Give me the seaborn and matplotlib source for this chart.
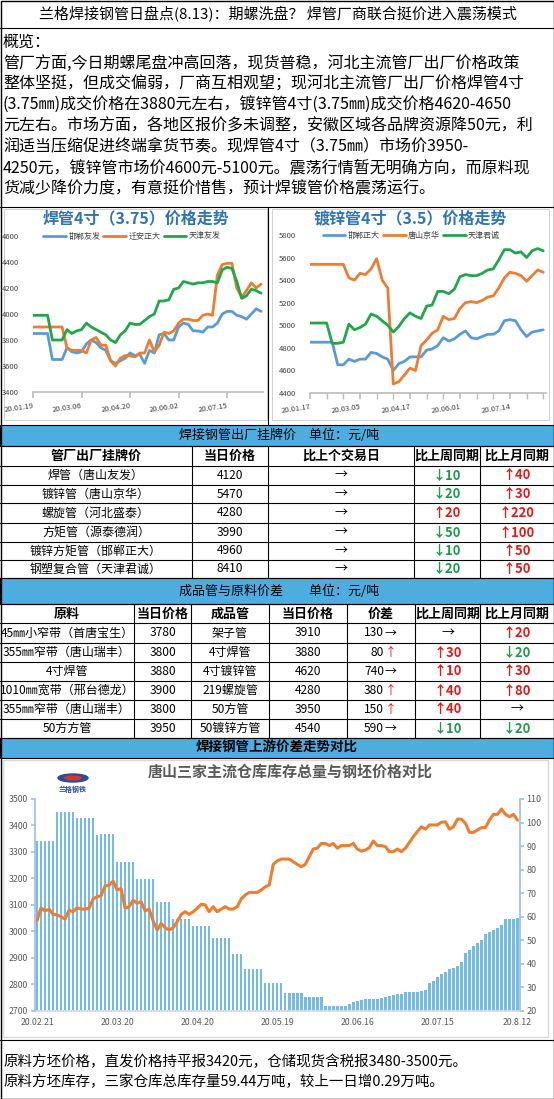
import numpy as np
import pandas as pd
import seaborn as sns
import matplotlib.pyplot as plt
from matplotlib.patches import Rectangle, Ellipse
from matplotlib.transforms import Bbox, TransformedBbox

W, H = 554, 1099
sns.set_theme(style="white")
plt.rcParams['font.family'] = ['Noto Sans CJK SC', 'DejaVu Sans']
plt.rcParams['axes.unicode_minus'] = False

# ---------------- data ----------------
title = "兰格焊接钢管日盘点(8.13)：期螺洗盘？ 焊管厂商联合挺价进入震荡模式"
overview = [
    "概览：",
    "管厂方面,今日期螺尾盘冲高回落，现货普稳，河北主流管厂出厂价格政策",
    "整体坚挺，但成交偏弱，厂商互相观望；现河北主流管厂出厂价格焊管4寸",
    "(3.75㎜)成交价格在3880元左右，镀锌管4寸(3.75㎜)成交价格4620-4650",
    "元左右。市场方面，各地区报价多未调整，安徽区域各品牌资源降50元，利",
    "润适当压缩促进终端拿货节奏。现焊管4寸（3.75㎜）市场价3950-",
    "4250元，镀锌管市场价4600元-5100元。震荡行情暂无明确方向，而原料现",
    "货减少降价力度，有意挺价惜售，预计焊镀管价格震荡运行。",
]
footer = [
    "原料方坯价格，直发价格持平报3420元，仓储现货含税报3480-3500元。",
    "原料方坯库存，三家仓库总库存量59.44万吨，较上一日增0.29万吨。",
]

# 焊管4寸(3.75) chart
weld_dates = ["20.01.19", "20.03.06", "20.04.20", "20.06.02", "20.07.15"]
weld_names = ["邯郸友发", "迁安正大", "天津友发"]
hd_youfa = [3850, 3850, 3850, 3850, 3650, 3650, 3650, 3740, 3710, 3700,
            3710, 3770, 3800, 3780, 3740, 3720, 3640, 3620, 3640, 3660,
            3700, 3680, 3690, 3620, 3720, 3700, 3840, 3850, 3800, 3800,
            3900, 3930, 3920, 3870, 3870, 3860, 3900, 3900, 3930, 4000,
            4020, 4020, 3990, 3980, 3960, 4000, 4040, 4020]
qa_zhengda = [3900, 3900, 3900, 3900, 3900, 3900, 3900, 3740, 3720, 3720,
              3720, 3700, 3800, 3820, 3760, 3760, 3640, 3600, 3660, 3680,
              3680, 3670, 3700, 3700, 3800, 3710, 3760, 3860, 3850, 3870,
              3930, 3960, 3960, 3950, 3950, 3990, 4000, 3990, 4300, 4380,
              4390, 4390, 4200, 4130, 4180, 4240, 4200, 4230]
tj_youfa = [3990, 3990, 3990, 3990, 3800, 3800, 3800, 3880, 3850, 3870,
            3880, 3930, 3900, 3880, 3860, 3840, 3800, 3780, 3840, 3870,
            3930, 3920, 3920, 3950, 3980, 4000, 4100, 4100, 4110, 4190,
            4200, 4250, 4240, 4230, 4240, 4240, 4250, 4250, 4240, 4340,
            4360, 4350, 4250, 4120, 4140, 4190, 4180, 4160]

# 镀锌管4寸(3.5) chart
galv_dates = ["20.01.17", "20.03.05", "20.04.17", "20.06.01", "20.07.14"]
galv_names = ["邯郸正大", "唐山京华", "天津君诚"]
hd_zhengda = [4850, 4850, 4850, 4850, 4850, 4650, 4650, 4700, 4680, 4700,
              4700, 4760, 4750, 4720, 4700, 4600, 4660, 4680, 4720, 4720,
              4720, 4780, 4790, 4820, 4890, 4860, 4880, 4920, 4950, 4890,
              4880, 4900, 4920, 4920, 4950, 5040, 5050, 5040, 4960, 4900,
              4940, 4950, 4960]
ts_jinghua = [5540, 5540, 5540, 5540, 5540, 5540, 5540, 5420, 5400, 5460,
              5450, 5500, 5590, 5400, 5330, 4480, 4500, 4560, 4620, 4600,
              4820, 4870, 4930, 4960, 5080, 5050, 5060, 5150, 5200, 5210,
              5200, 5220, 5250, 5260, 5330, 5420, 5470, 5460, 5440, 5390,
              5440, 5490, 5470]
tj_juncheng = [5020, 5020, 5020, 5020, 4840, 4840, 4850, 5010, 4960, 4980,
               5010, 5100, 5080, 5040, 5000, 4940, 4990, 5060, 5110, 5080,
               5060, 5170, 5180, 5300, 5300, 5280, 5320, 5430, 5450, 5440,
               5440, 5460, 5490, 5500, 5580, 5670, 5670, 5640, 5650, 5600,
               5660, 5680, 5660]

# table 1
t1_head = ["管厂出厂挂牌价", "当日价格", "比上个交易日", "比上周同期", "比上月同期"]
t1_names = ["焊管（唐山友发）", "镀锌管（唐山京华）", "螺旋管（河北盛泰）",
            "方矩管（源泰德润）", "镀锌方矩管（邯郸正大）", "钢塑复合管（天津君诚）"]
t1_price = [4120, 5470, 4280, 3990, 4960, 8410]
t1_day = [0, 0, 0, 0, 0, 0]
t1_week = [-10, -20, 20, -50, -10, -20]
t1_month = [40, 30, 220, 100, 50, 50]

# table 2
t2_head = ["原料", "当日价格", "成品管", "当日价格", "价差", "比上周同期", "比上月同期"]
t2_raw = ["45㎜小窄带（首唐宝生）", "355㎜窄带（唐山瑞丰）", "4寸焊管",
          "1010㎜宽带（邢台德龙）", "355㎜窄带（唐山瑞丰）", "50方方管"]
t2_raw_price = [3780, 3800, 3880, 3900, 3800, 3950]
t2_pipe = ["架子管", "4寸焊管", "4寸镀锌管", "219螺旋管", "50方管", "50镀锌方管"]
t2_pipe_price = [3910, 3880, 4620, 4280, 3950, 4540]
t2_spread = [130, 80, 740, 380, 150, 590]
t2_spread_dir = [0, 1, 0, 1, 1, 0]
t2_week = [0, 30, 10, 40, 40, -10]
t2_month = [20, -20, 30, 80, 0, -20]

# bottom chart: inventory (万吨, right axis) and billet price (left axis)
stock_dates = ["20.02.21", "20.03.20", "20.04.20", "20.05.19", "20.06.16", "20.07.15", "20.8.12"]
stock = [92, 92, 92, 92, 92, 104.3, 104.3, 104.3, 104.3, 104.3,
         102, 102, 102, 102, 102, 94.5, 95.2, 95.2, 95.2, 95.2,
         83.2, 83.2, 83.2, 83.2, 83.2, 76, 76, 76, 76, 76,
         66.2, 66.2, 66.2, 66.2, 59.1, 59.1, 59.1, 59.1, 59.1, 55.8,
         55.8, 55.8, 55.8, 55.8, 50.7, 50.7, 50.7, 50.7, 50.7, 44,
         44, 44, 37.7, 37.7, 37.7, 37.7, 37.7, 31.6, 31.6, 31.6,
         31.6, 31.6, 27.7, 27.7, 27.7, 27.7, 27.7, 25.7, 25.7, 25.7,
         25.7, 25.7, 21.8, 21.8, 21.8, 21.8, 21.8, 22.2, 23, 23.6,
         24.2, 24.5, 24.8, 24.8, 25, 24.8, 25.6, 26, 26.3, 26.8,
         27, 27.2, 27.8, 28, 28, 28.1, 28.2, 28.8, 31.7, 32.8,
         34.2, 35.6, 36.6, 37.8, 38.2, 38.8, 40.5, 44.5, 46, 47.5,
         48.8, 49.9, 52.4, 53.4, 54.2, 55.2, 56.3, 59.1, 59.1, 59.15,
         59.44]
billet = [3040, 3089, 3077, 3084, 3064, 3062, 3055, 3046, 3080, 3074,
          3089, 3084, 3084, 3087, 3122, 3131, 3134, 3172, 3175, 3190,
          3156, 3162, 3087, 3093, 3118, 3106, 3112, 3077, 3084, 3039,
          3005, 3030, 3014, 3005, 3014, 3036, 3064, 3074, 3064, 3074,
          3087, 3102, 3100, 3074, 3093, 3074, 3084, 3093, 3084, 3084,
          3093, 3122, 3137, 3147, 3147, 3147, 3156, 3168, 3175, 3253,
          3266, 3273, 3273, 3273, 3263, 3253, 3244, 3253, 3282, 3311,
          3314, 3332, 3332, 3324, 3332, 3314, 3324, 3324, 3324, 3332,
          3311, 3303, 3307, 3316, 3341, 3324, 3324, 3320, 3301, 3301,
          3311, 3301, 3314, 3336, 3358, 3377, 3395, 3386, 3402, 3402,
          3402, 3412, 3414, 3386, 3395, 3424, 3424, 3408, 3374, 3374,
          3383, 3392, 3392, 3421, 3442, 3442, 3462, 3442, 3433, 3442,
          3420]

BLUE, ORANGE, GREEN = "#5B9BD5", "#ED7D31", "#23A54B"
BAR = "#4DADE0"
UP, DOWN = "#E41A1A", "#1E9A4E"
GRAY = "#595959"


def pt(p):
    return p * 0.72


fig = plt.figure(figsize=(W / 100, H / 100), dpi=100)
bg = fig.add_axes([0, 0, 1, 1])
bg.set_xlim(0, W)
bg.set_ylim(H, 0)
bg.axis("off")


def box_axes(x0, y0, x1, y1):
    return fig.add_axes([x0 / W, 1 - y1 / H, (x1 - x0) / W, (y1 - y0) / H])


def txt(x, y, s, size=12, color="black", ha="center", weight="normal", **kw):
    return bg.text(x, y, s, fontsize=pt(size), color=color, ha=ha, va="center",
                   fontweight=weight, **kw)


def hline(y, x0=0, x1=W):
    bg.plot([x0, x1], [y, y], color="black", lw=0.8)


def vline(x, y0, y1):
    bg.plot([x, x], [y0, y1], color="black", lw=0.8)


def change(v):
    if v == 0:
        return "→", "black", "normal"
    if v > 0:
        return "↑" + str(v), UP, "bold"
    return "↓" + str(-v), DOWN, "bold"


# ---------------- header & overview ----------------
txt(278, 14, title, size=15)
hline(28)
for i, line in enumerate(overview):
    txt(3, 42 + 21 * i, line, size=16, ha="left")
hline(207)
vline(268, 207, 425)

# ---------------- top line charts ----------------
def price_chart(rect, names, series, dates, step, ylim, yticks, xmax, chart_title, tx, minor=None):
    ax = box_axes(*rect)
    n = len(series[0])
    df = pd.DataFrame({"idx": np.arange(n)})
    for nm, s in zip(names, series):
        df[nm] = s
    df = df.melt(id_vars="idx", var_name="厂家", value_name="价格")
    sns.lineplot(data=df, x="idx", y="价格", hue="厂家", palette=[BLUE, ORANGE, GREEN],
                 lw=2, ax=ax)
    ax.set_xlim(0, xmax)
    ax.set_ylim(*ylim)
    ax.set_yticks(yticks)
    ax.set_xticks([step * k for k in range(len(dates))])
    ax.set_xticklabels(dates, rotation=8, ha="right", rotation_mode="anchor")
    if minor is not None:
        ax.set_xticks(minor, minor=True)
    ax.set_xlabel("")
    ax.set_ylabel("")
    for s in ["top", "right", "left"]:
        ax.spines[s].set_visible(False)
    ax.spines["bottom"].set_color("#BFBFBF")
    ax.tick_params(axis="y", length=0, labelsize=5.5, labelcolor="#404040", pad=10)
    ax.tick_params(axis="x", which="both", bottom=True, length=4, color="#BFBFBF",
                   labelsize=5.5, labelcolor="#404040", pad=3)
    ax.patch.set_visible(False)
    ax.legend(loc="center", bbox_to_anchor=(0.43, 1.0), ncol=3, frameon=False,
              fontsize=5.8, handlelength=2.8, columnspacing=0.4, handletextpad=0.3,
              labelcolor="#404040")
    txt(tx, 218, chart_title, size=16, color="#2E75B6", weight="bold")
    return ax


price_chart((33, 236, 263, 392), weld_names, [hd_youfa, qa_zhengda, tj_youfa],
            weld_dates, 10, (3400, 4600), range(3400, 4601, 200), 47.4,
            "焊管4寸（3.75）价格走势", 136)
price_chart((310, 235, 546, 393), galv_names, [hd_zhengda, ts_jinghua, tj_juncheng],
            galv_dates, 9, (4400, 5800), range(4400, 5801, 200), 42.5,
            "镀锌管4寸（3.5）价格走势", 410, minor=list(range(0, 43, 3)))
bg.add_patch(Rectangle((4, 209), 263, 211, fill=False, ec="#D0D0D0", lw=0.7))
bg.add_patch(Rectangle((272, 209), 277, 211, fill=False, ec="#D0D0D0", lw=0.7))

# ---------------- table 1 ----------------
bg.add_patch(Rectangle((0, 425), W, 21, fc=BAR, ec="black", lw=0.8))
txt(179, 435.5, "焊接钢管出厂挂牌价\u3000单位：元/吨", size=13, ha="left")
t1_cols = [0, 192, 268, 414, 480, W]
t1_rows = [446, 466, 485, 503, 523, 542, 560, 578]
for y in t1_rows:
    hline(y)
for x in t1_cols[1:-1]:
    vline(x, 446, 578)
cx1 = [(a + b) / 2 for a, b in zip(t1_cols[:-1], t1_cols[1:])]
for j, h in enumerate(t1_head):
    txt(cx1[j], 456, h, size=13, weight="bold")
for i in range(len(t1_names)):
    y = (t1_rows[i + 1] + t1_rows[i + 2]) / 2
    txt(cx1[0], y, t1_names[i], size=12)
    txt(cx1[1], y, str(t1_price[i]), size=12)
    for j, v in ((2, t1_day[i]), (3, t1_week[i]), (4, t1_month[i])):
        s, c, w = change(v)
        txt(cx1[j], y, s, size=13, color=c, weight=w)

# ---------------- table 2 ----------------
bg.add_patch(Rectangle((0, 578), W, 26, fc=BAR, ec="black", lw=0.8))
txt(179, 591, "成品管与原料价差\u3000\u3000单位：元/吨", size=13, ha="left")
t2_cols = [0, 134, 191, 269, 347, 415, 480, W]
t2_rows = [604, 623, 643, 662, 681, 700, 719, 738]
for y in t2_rows:
    hline(y)
for x in t2_cols[1:-1]:
    vline(x, 604, 738)
cx2 = [(a + b) / 2 for a, b in zip(t2_cols[:-1], t2_cols[1:])]
for j, h in enumerate(t2_head):
    txt(cx2[j], 613.5, h, size=13, weight="bold")
clip = TransformedBbox(Bbox([[0, 604], [134, 738]]), bg.transData)
for i in range(len(t2_raw)):
    y = (t2_rows[i + 1] + t2_rows[i + 2]) / 2
    t = txt(cx2[0], y, t2_raw[i], size=12)
    t.set_clip_box(clip)
    t.set_clip_on(True)
    txt(cx2[1], y, str(t2_raw_price[i]), size=12)
    txt(cx2[2], y, t2_pipe[i], size=12)
    txt(cx2[3], y, str(t2_pipe_price[i]), size=12)
    txt(384, y, str(t2_spread[i]), size=12, ha="right")
    if t2_spread_dir[i] > 0:
        txt(385, y, "↑", size=12, color=UP, ha="left")
    else:
        txt(385, y, "→", size=12, ha="left")
    for j, v in ((5, t2_week[i]), (6, t2_month[i])):
        s, c, w = change(v)
        txt(cx2[j], y, s, size=13, color=c, weight=w)

bg.add_patch(Rectangle((0, 738), W, 20, fc=BAR, ec="black", lw=0.8))
txt(277, 748, "焊接钢管上游价差走势对比", size=13.5, weight="bold")

# ---------------- bottom chart ----------------
bg.add_patch(Rectangle((3, 760), 545, 277, fill=False, ec="#D9D9D9", lw=1))
txt(290, 772, "唐山三家主流仓库库存总量与钢坯价格对比", size=15, color=GRAY, weight="bold")
bg.add_patch(Ellipse((73, 778), 30, 8, fc="#2B4C9B", ec="#2B4C9B"))
bg.add_patch(Ellipse((73, 778), 18, 5, fc="#D9352B", ec="none"))
txt(73, 789, "兰格钢铁", size=7, color="#2B4C9B", weight="bold")

idx = np.arange(len(stock))
axb = box_axes(35, 799, 519.5, 1010.7)
sns.barplot(x=idx, y=stock, color="#74BCE6", saturation=1, width=0.62,
            linewidth=0, edgecolor="none", ax=axb)
axb.set_ylim(20, 110)
axl = axb.twinx()
sns.lineplot(x=idx, y=billet, color=ORANGE, lw=2.2, ax=axl)
axl.set_ylim(2700, 3500)
axb.set_xlim(-0.5, len(stock) - 0.5)

axb.yaxis.tick_right()
axl.yaxis.tick_left()
axb.set_yticks(range(20, 111, 10))
axl.set_yticks(range(2700, 3501, 100))
axb.set_xticks(range(0, len(stock), 20))
axb.set_xticklabels(stock_dates)
for a in (axb, axl):
    a.set_xlabel("")
    a.set_ylabel("")
    a.patch.set_visible(False)
    for s in a.spines.values():
        s.set_visible(False)
axb.spines["right"].set_visible(True)
axb.spines["right"].set_color("#9DC3E6")
axb.spines["bottom"].set_visible(True)
axb.spines["bottom"].set_color("#D9D9D9")
axl.spines["left"].set_visible(True)
axl.spines["left"].set_color("#9DC3E6")
axb.tick_params(axis="y", right=True, left=False, length=3, color="#9DC3E6",
                labelsize=6.5, labelcolor=GRAY, pad=2)
axl.tick_params(axis="y", left=True, right=False, length=3, color="#9DC3E6",
                labelsize=6.3, labelcolor=GRAY, pad=2)
axb.tick_params(axis="x", length=0, labelsize=6.3, labelcolor=GRAY, pad=5)

# ---------------- footer ----------------
hline(1040)
for i, line in enumerate(footer):
    txt(3, 1062 + 20 * i, line, size=14.5, ha="left")

bg.add_patch(Rectangle((0.5, 0.5), W - 1, H - 1, fill=False, ec="black", lw=1))

fig.savefig("out.png", dpi=100)
